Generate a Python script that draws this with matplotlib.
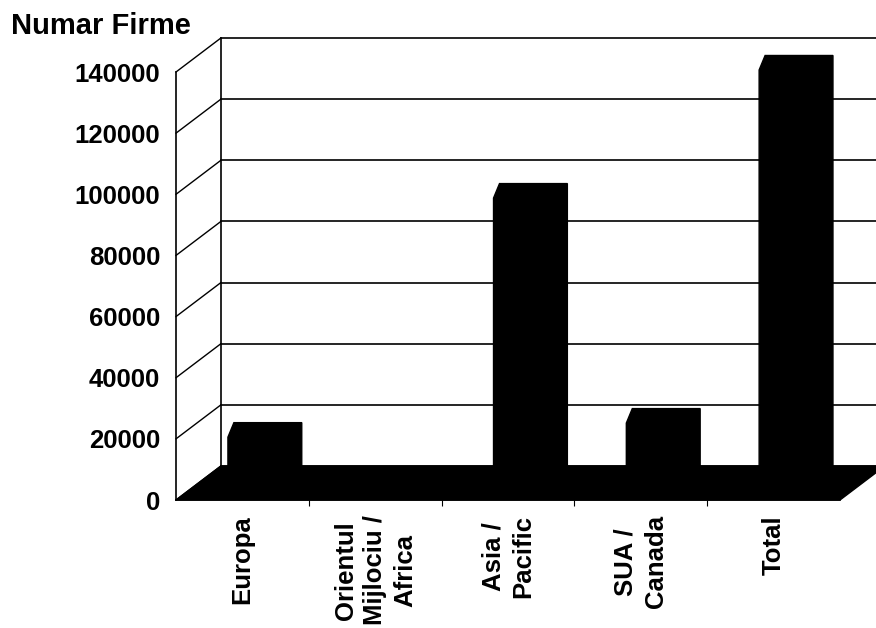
import matplotlib
matplotlib.use('Agg')
import matplotlib.pyplot as plt
from matplotlib.patches import Polygon

# date
categorii = ['Europa', 'Orientul\nMijlociu /\nAfrica', 'Asia /\nPacific', 'SUA /\nCanada', 'Total']
numar_firme = [15000, 300, 93200, 19600, 135100]
valori_axa = [0, 20000, 40000, 60000, 80000, 100000, 120000, 140000]

plt.rcParams['font.family'] = ['Liberation Sans', 'DejaVu Sans']
plt.rcParams['font.weight'] = 'bold'

fig = plt.figure(figsize=(8.76, 6.28), dpi=100)
ax = fig.add_axes([176 / 876, 128 / 628, 664 / 876, 428 / 628])
ax.set_xlim(0, len(categorii))
ax.set_ylim(0, 140000)

# deplasare "3D" spre peretele din spate
adx = 0.338
ady = 11120
n = len(categorii)

# peretele lateral si peretele din spate (linii de grila)
for v in valori_axa:
    ax.plot([0, adx], [v, v + ady], color='black', lw=1, clip_on=False, zorder=1)
    ax.plot([adx, n + adx], [v + ady, v + ady], color='black', lw=1.2, clip_on=False, zorder=1)
ax.plot([adx, adx], [ady, valori_axa[-1] + ady], color='black', lw=1.2, clip_on=False, zorder=1)

# podeaua neagra
podea = Polygon([(0, 0), (n, 0), (n + adx, ady), (adx, ady)], closed=True,
                facecolor='black', edgecolor='black', lw=1, clip_on=False, zorder=2)
ax.add_patch(podea)

# coloanele (negre, cu tesitura sus-stanga)
baza = 0.5 * ady
latime = 0.556
for i, v in enumerate(numar_firme):
    xc = i + 0.5 + 0.5 * adx
    xl, xr = xc - latime / 2, xc + latime / 2
    sus = baza + v
    pts = [(xl, baza), (xl, sus), (xl + 0.045, sus + 4740), (xr, sus + 4740), (xr, baza)]
    ax.add_patch(Polygon(pts, closed=True, facecolor='black', edgecolor='black',
                         lw=1, clip_on=False, zorder=3))

# axe
for s in ['top', 'right']:
    ax.spines[s].set_visible(False)
ax.spines['left'].set_linewidth(1.2)
ax.spines['bottom'].set_linewidth(1.2)
ax.spines['bottom'].set_zorder(4)

ax.set_yticks(valori_axa)
ax.set_yticklabels([str(v) for v in valori_axa], fontsize=18.5, fontweight='bold')
ax.tick_params(axis='y', length=0, pad=11.5)

ax.set_xticks([i + 0.5 for i in range(n)])
ax.set_xticklabels(categorii, rotation=90, fontsize=18.5, fontweight='bold', linespacing=1.3)
ax.tick_params(axis='x', which='major', length=0, pad=11)
ax.set_xticks(list(range(1, n)), minor=True)
ax.tick_params(axis='x', which='minor', length=4, width=0.8, direction='out')

fig.text(11 / 876, 1 - 26 / 628, 'Numar Firme', ha='left', va='center',
         fontsize=21, fontweight='bold')

fig.savefig('out.png', dpi=100)
